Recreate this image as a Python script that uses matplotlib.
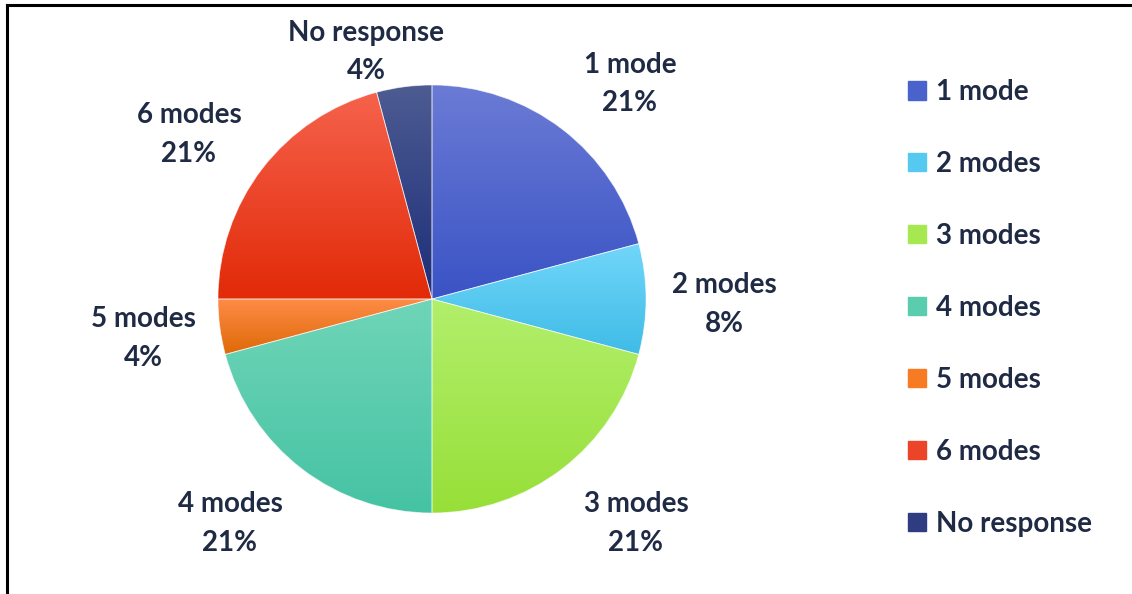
import numpy as np
import matplotlib.pyplot as plt
from matplotlib import patches as mpatches
from matplotlib.colors import LinearSegmentedColormap

# survey responses: number of transport modes used
labels = ['1 mode', '2 modes', '3 modes', '4 modes', '5 modes', '6 modes', 'No response']
counts = [5, 2, 5, 5, 1, 5, 1]
percent_text = ['21%', '8%', '21%', '21%', '4%', '21%', '4%']

# gradient colours for each slice (top, bottom)
top_colors = ['#6b7bd5', '#72d6f9', '#b2ef6c', '#70d5b8', '#ff8c48', '#f6624c', '#4d5c92']
bottom_colors = ['#3a53c5', '#3fbce7', '#97df38', '#45c3a3', '#de6a08', '#e12a08', '#1d2d79']
mid_colors = ['#4a63cc', '#55c9f0', '#a6e84f', '#5acdae', '#f77b22', '#ec4428', '#2e3c82']

# label anchor points (pie radius = 1)
label_pos = [(0.925, 1.005), (1.364, -0.025), (0.953, -1.05), (-0.944, -1.05),
             (-1.350, -0.185), (-1.136, 0.77), (-0.308, 1.155)]

text_color = '#1f2a44'
font = 'Lato'
fsize = 20

W, H = 1132, 594
cx, cy, R = 432, 299, 214

fig = plt.figure(figsize=(W / 100, H / 100), dpi=100)
ax = fig.add_axes([0, 0, 1, 1])

wedges, _ = ax.pie(counts, startangle=90, counterclock=False, radius=1,
                   colors=mid_colors, wedgeprops=dict(linewidth=0))
ax.set_aspect('auto')

# vertical gradient fill clipped to every wedge
for w, c0, c1 in zip(wedges, top_colors, bottom_colors):
    w.set_facecolor('none')
    verts = w.get_path().vertices
    x0, x1 = verts[:, 0].min(), verts[:, 0].max()
    y0, y1 = verts[:, 1].min(), verts[:, 1].max()
    cmap = LinearSegmentedColormap.from_list('g', [c1, c0])
    grad = np.linspace(0, 1, 256).reshape(-1, 1)
    im = ax.imshow(grad, cmap=cmap, origin='lower', extent=[x0, x1, y0, y1],
                   aspect='auto', interpolation='bilinear', zorder=1)
    im.set_clip_path(w)
    # thin white separators
    ax.add_patch(mpatches.Wedge(w.center, w.r, w.theta1, w.theta2, facecolor='none',
                                edgecolor='white', linewidth=0.6, alpha=0.6, zorder=2))

ax.set_xlim(-cx / R, (W - cx) / R)
ax.set_ylim((cy - H) / R, cy / R)
ax.axis('off')

for (x, y), name, pct in zip(label_pos, labels, percent_text):
    ax.text(x, y, name + '\n' + pct, ha='center', va='center', fontsize=fsize,
            fontweight='bold', color=text_color, family=font, linespacing=1.6, zorder=3)

# legend
handles = [mpatches.Patch(color=c, label=l) for c, l in zip(mid_colors, labels)]
leg = fig.legend(handles=handles, loc='upper left', bbox_to_anchor=(908 / W, 1 - 79 / H),
                 frameon=False, handlelength=0.65, handleheight=0.65, handletextpad=0.35,
                 labelspacing=1.655, prop=dict(family=font, weight='bold', size=fsize),
                 labelcolor=text_color, borderpad=0, borderaxespad=0)

# frame lines on left and top
fig.add_artist(plt.Line2D([7 / W, 7 / W], [0, 1 - 5 / H], transform=fig.transFigure,
                          color='black', linewidth=2.2))
fig.add_artist(plt.Line2D([7 / W, 1], [1 - 5 / H, 1 - 5 / H], transform=fig.transFigure,
                          color='black', linewidth=2.2))

fig.savefig('out.png', dpi=100)
